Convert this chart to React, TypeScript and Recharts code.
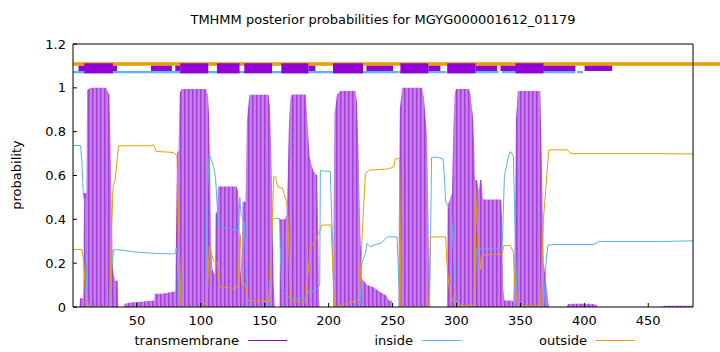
import React from 'react';
import { ComposedChart, Area, Line, XAxis, YAxis, ReferenceArea } from 'recharts';

const TITLE = 'TMHMM posterior probabilities for MGYG000001612_01179';
const X_TICKS = [50, 100, 150, 200, 250, 300, 350, 400, 450];
const Y_TICKS = [0, 0.2, 0.4, 0.6, 0.8, 1, 1.2];
const LEGEND = ['transmembrane', 'inside', 'outside'];

// posterior probability of transmembrane (residue, probability)
const transmembrane: [number, number][] = [
  [0, 0], [5, 0], [5.5, 0.04], [8, 0.04], [8.6, 0.52], [10.5, 0.52], [11, 0.99], [14, 1.0], [26, 1.0],
  [27.5, 0.98], [28.5, 0.97], [29.5, 0.7], [30, 0.55], [31, 0.2], [31.7, 0.15], [33, 0.12], [35, 0.12],
  [35.5, 0], [40, 0], [40.5, 0.015], [45, 0.02], [55, 0.025], [63.5, 0.03], [64, 0.06], [70, 0.06],
  [78, 0.07], [80, 0.07], [80.5, 0.3], [81.5, 0.71], [82.5, 0.71], [83.5, 0.98], [85, 0.995], [104, 0.995],
  [105.5, 0.97], [106.5, 0.87], [107.3, 0.6], [108, 0.3], [109, 0.17], [111, 0.15], [111.5, 0.43],
  [112.5, 0.43], [113.5, 0.55], [128, 0.55], [129, 0.53], [130, 0.45], [131, 0.17], [132, 0.1],
  [132.5, 0.48], [135, 0.48], [136, 0.85], [138, 0.968], [153, 0.968], [154, 0.92], [155, 0.75],
  [156, 0.45], [157, 0.1], [158, 0], [161.5, 0], [162, 0.4], [166, 0.4], [167, 0.42], [168, 0.6],
  [169, 0.85], [170, 0.95], [171, 0.97], [182, 0.97], [183.5, 0.84], [185, 0.69], [187, 0.64],
  [188, 0.62], [191, 0.6], [192, 0.3], [192.5, 0.05], [193, 0], [203.5, 0], [204, 0.5], [204.5, 0.88],
  [206.5, 0.97], [209, 0.985], [221, 0.985], [222.2, 0.93], [223.5, 0.69], [224.8, 0.32], [226, 0.13],
  [230, 0.1], [235, 0.09], [240, 0.07], [245.5, 0.05], [247, 0.03], [249.5, 0.03], [250, 0],
  [254.5, 0], [255, 0.5], [255.6, 0.9], [257.5, 1.0], [273, 1.0], [274.4, 0.96], [275.7, 0.87],
  [277, 0.78], [278, 0.4], [278.5, 0.05], [279, 0], [292.5, 0], [293, 0.46], [296.5, 0.52],
  [297.5, 0.8], [298.5, 0.97], [299.5, 0.995], [309.5, 0.995], [311, 0.97], [313, 0.86], [314, 0.7],
  [314.5, 0.58], [316, 0.58], [317.4, 0.53], [318.5, 0.58], [319.5, 0.58], [320.5, 0.5], [321.3, 0.49],
  [335, 0.49], [335.7, 0.4], [336.5, 0.09], [337.5, 0.03], [343.5, 0.03], [344.5, 0.02], [345.5, 0.3],
  [346.5, 0.85], [348, 0.985], [365.5, 0.985], [366.3, 0.8], [367, 0.58], [368.3, 0.2], [369.6, 0.13],
  [371, 0.07], [372, 0.01], [372.5, 0], [386, 0], [387, 0.012], [390, 0.015], [405, 0.015],
  [409.5, 0.01], [410, 0], [461, 0], [462, 0.006], [485, 0.006],
];

// posterior probability of inside
const inside: [number, number][] = [
  [0, 0.737], [6, 0.737], [7, 0.66], [8.2, 0.5], [9.5, 0.49], [10.5, 0.1], [12, 0], [28.5, 0],
  [30, 0.15], [31.7, 0.26], [35, 0.262], [50, 0.25], [63, 0.245], [78, 0.242], [80, 0.245],
  [80.7, 0.27], [81.5, 0.25], [83, 0.02], [84, 0], [103.5, 0], [105, 0.5], [106.6, 0.698], [110, 0.64],
  [111.5, 0.59], [113, 0.45], [114, 0.367], [120, 0.36], [128.3, 0.35], [129.5, 0.35], [130.5, 0.5],
  [131.5, 0.42], [133, 0.4], [134, 0.39], [135, 0.2], [137, 0], [153, 0], [155, 0.2], [156, 0.4],
  [159, 0.404], [161.5, 0.404], [162.5, 0.2], [163.5, 0.076], [170, 0.04], [183, 0.035], [184, 0.07],
  [190, 0.077], [193, 0.1], [193.5, 0.622], [201.3, 0.618], [203, 0.3], [204, 0], [224.5, 0],
  [226, 0.2], [228.7, 0.244], [230, 0.29], [232.5, 0.275], [236.5, 0.285], [240.4, 0.29],
  [244.5, 0.31], [246, 0.32], [253.5, 0.32], [255, 0.1], [256, 0], [279, 0], [280.5, 0.683],
  [285, 0.683], [289.5, 0.675], [290.5, 0.6], [291.5, 0.48], [294, 0.457], [296, 0.44], [298, 0.2],
  [300, 0], [314.5, 0], [315.5, 0.27], [320, 0.265], [335.7, 0.265], [337.5, 0.6], [340.6, 0.686],
  [342.2, 0.709], [344.5, 0.69], [346, 0.3], [347.5, 0], [368.3, 0], [370, 0.2], [371.5, 0.282],
  [376, 0.285], [407.4, 0.285], [411.3, 0.299], [460, 0.299], [485, 0.302],
];

// posterior probability of outside
const outside: [number, number][] = [
  [0, 0.262], [7, 0.262], [8.5, 0.2], [10.3, 0], [28.6, 0], [30, 0.3], [31.3, 0.549], [33, 0.58],
  [35.6, 0.736], [60.4, 0.736], [63, 0.74], [65, 0.71], [78.7, 0.705], [81.3, 0.69], [84.5, 0],
  [104.8, 0], [106.6, 0.279], [108, 0.25], [110, 0.21], [111, 0.206], [112.5, 0.206], [115, 0.09],
  [127.5, 0.085], [129, 0.1], [130.9, 0.33], [132.3, 0.1], [134, 0.11], [135, 0.1], [137, 0.03],
  [153, 0.025], [155, 0.2], [157, 0.594], [158.4, 0.594], [160, 0.55], [164, 0.54], [167, 0.48],
  [168, 0.43], [170, 0.03], [181.8, 0.02], [183, 0.1], [185.7, 0.274], [188, 0.29], [192, 0.33],
  [194.8, 0.374], [201.9, 0.374], [204.5, 0], [222.2, 0.03], [224, 0.03], [226, 0.3], [228.7, 0.61],
  [232, 0.625], [247, 0.63], [251, 0.64], [252, 0.675], [255.5, 0.678], [256.5, 0], [278.3, 0],
  [279.5, 0.32], [291.5, 0.32], [292.5, 0.2], [294, 0.1], [296, 0.05], [298, 0.02], [300, 0.005],
  [313.5, 0.01], [314.8, 0.564], [315.5, 0.45], [316.5, 0.35], [319, 0.17], [320, 0.23], [323, 0.24],
  [335.7, 0.24], [337, 0.28], [342.2, 0.28], [344.5, 0.25], [345.5, 0.1], [348, 0.005],
  [365.7, 0.005], [368, 0.4], [372.2, 0.717], [386.5, 0.717], [389.5, 0.7], [454, 0.7], [485, 0.698],
];

// predicted topology bars above the plot (residue ranges)
const outsideBar: [number, number] = [0, 510];
const insideBars: [number, number][] = [[0, 254.5], [255, 292], [293, 333], [335.5, 393], [394.5, 399]];
const helixThick: [number, number][] = [
  [8.8, 31.2], [83.9, 105.8], [112.6, 130.3], [134, 155.7], [163, 184.1], [203.4, 226.9],
  [256.1, 278], [292.7, 314.8], [346.1, 368],
];
const helixThin: [number, number][] = [
  [4.3, 34.4], [61, 77.4], [80, 83.9], [184.1, 189.6], [229.5, 250.4], [278, 287.4],
  [314.8, 331.8], [334.4, 393], [400.2, 421.8],
];

const PURPLE = '#9400D3';
const BLUE = '#56B4E9';
const ORANGE = '#E69F00';
const FONT = '"DejaVu Sans", "Liberation Sans", sans-serif';

const toRows = (pts: [number, number][]) => pts.map(([x, y]) => ({ x, y }));

export default function App() {
  const tmRows = toRows(transmembrane);
  const inRows = toRows(inside);
  const outRows = toRows(outside);
  const legendColors = [PURPLE, BLUE, ORANGE];
  const legendTextEnd = [239, 413, 587];
  const legendLine = [[248, 287], [422, 461], [596, 635]];

  return (
    <div style={{ position: 'absolute', left: 0, top: 0, width: 720, height: 352, background: '#fff', fontFamily: FONT, color: '#000', overflow: 'hidden' }}>
      <div style={{ position: 'absolute', left: 0, width: 766, top: 13, textAlign: 'center', fontSize: 13, lineHeight: '13px', whiteSpace: 'nowrap' }}>{TITLE}</div>
      <div style={{ position: 'absolute', left: 16, top: 175, transform: 'translate(-50%, -50%) rotate(-90deg)', fontSize: 13, lineHeight: '13px', whiteSpace: 'nowrap' }}>probability</div>
      <ComposedChart width={720} height={352} margin={{ top: 43, right: 26, bottom: 0, left: 0 }} style={{ fontFamily: FONT }}>
        <defs>
          <pattern id="tmStripes" patternUnits="userSpaceOnUse" width={4} height={8}>
            <rect x={0} y={0} width={4} height={8} fill="#C47EE8" />
            <rect x={0} y={0} width={1.5} height={8} fill="#A43FDC" />
          </pattern>
        </defs>
        <XAxis xAxisId={0} type="number" dataKey="x" domain={[0, 485]} ticks={X_TICKS} interval={0}
          orientation="bottom" height={45} tickSize={-4} tickMargin={13} allowDataOverflow
          axisLine={{ stroke: '#000' }} tickLine={{ stroke: '#000' }} tick={{ fontSize: 13, fill: '#000' }} />
        <XAxis xAxisId="top" type="number" dataKey="x" domain={[0, 485]} ticks={X_TICKS} interval={0}
          orientation="top" height={1} tickSize={-4} tick={false} allowDataOverflow
          axisLine={{ stroke: '#000' }} tickLine={{ stroke: '#000' }} />
        <YAxis yAxisId={0} type="number" domain={[0, 1.2]} ticks={Y_TICKS} interval={0} width={73}
          tickSize={-4} tickMargin={11} allowDataOverflow tickFormatter={(v: number) => String(v)}
          axisLine={{ stroke: '#000' }} tickLine={{ stroke: '#000' }} tick={{ fontSize: 13, fill: '#000' }} />
        <YAxis yAxisId="right" orientation="right" type="number" domain={[0, 1.2]} ticks={Y_TICKS} interval={0}
          width={1} tickSize={-4} tick={false} allowDataOverflow
          axisLine={{ stroke: '#000' }} tickLine={{ stroke: '#000' }} />

        <Area data={tmRows} dataKey="y" type="linear" xAxisId={0} yAxisId={0} stroke="none"
          fill="url(#tmStripes)" fillOpacity={1} isAnimationActive={false} dot={false} activeDot={false} />
        <Line data={inRows} dataKey="y" type="linear" xAxisId={0} yAxisId={0} stroke={BLUE} strokeWidth={1}
          dot={false} activeDot={false} isAnimationActive={false} />
        <Line data={outRows} dataKey="y" type="linear" xAxisId={0} yAxisId={0} stroke={ORANGE} strokeWidth={1}
          dot={false} activeDot={false} isAnimationActive={false} />

        <ReferenceArea xAxisId={0} yAxisId={0} x1={outsideBar[0]} x2={outsideBar[1]} y1={1.101} y2={1.1165}
          fill={ORANGE} fillOpacity={1} stroke="none" ifOverflow="visible" />
        {insideBars.map(([a, b], i) => (
          <ReferenceArea key={'in' + i} xAxisId={0} yAxisId={0} x1={a} x2={b} y1={1.0663} y2={1.0768}
            fill={BLUE} fillOpacity={1} stroke="none" ifOverflow="visible" />
        ))}
        {helixThin.map(([a, b], i) => (
          <ReferenceArea key={'thin' + i} xAxisId={0} yAxisId={0} x1={a} x2={b} y1={1.077} y2={1.101}
            fill={PURPLE} fillOpacity={1} stroke="none" ifOverflow="visible" />
        ))}
        {helixThick.map(([a, b], i) => (
          <ReferenceArea key={'thick' + i} xAxisId={0} yAxisId={0} x1={a} x2={b} y1={1.066} y2={1.112}
            fill={PURPLE} fillOpacity={1} stroke="none" ifOverflow="visible" />
        ))}
      </ComposedChart>
      {LEGEND.map((name, i) => (
        <React.Fragment key={name}>
          <div style={{ position: 'absolute', right: 720 - legendTextEnd[i], top: 334, fontSize: 13, lineHeight: '13px', whiteSpace: 'nowrap' }}>{name}</div>
          <div style={{ position: 'absolute', left: legendLine[i][0], width: legendLine[i][1] - legendLine[i][0], top: 340, height: 1.2, background: legendColors[i] }} />
        </React.Fragment>
      ))}
    </div>
  );
}
